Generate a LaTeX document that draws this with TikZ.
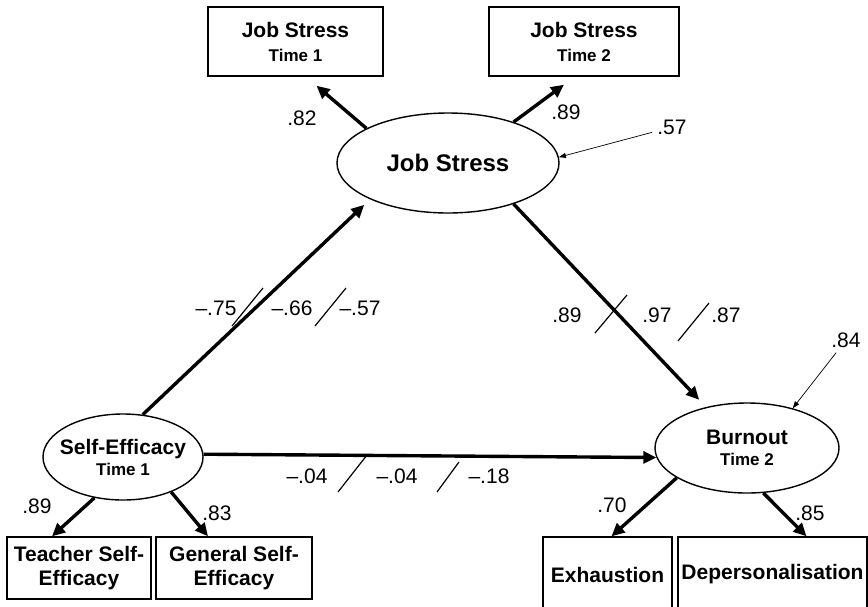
\documentclass[tikz,border=0pt]{standalone}
\usepackage{fontspec}
\setmainfont{Liberation Sans}
\usepackage{tikz}
\usetikzlibrary{arrows.meta,shapes.geometric,positioning}
\newcommand{\tline}[1]{{\fontsize{17}{20}\selectfont #1}}

\begin{document}
\begin{tikzpicture}[x=1pt, y=-1pt,
  lat/.style={ellipse, draw, line width=1.4pt, inner sep=0pt, align=center, font=\bfseries\fontsize{21}{21}\selectfont},
  obs/.style={rectangle, draw, line width=1.4pt, inner sep=0pt, align=center, font=\bfseries\fontsize{21}{24}\selectfont},
  arr/.style={-{Triangle[length=13pt,width=12pt]}, line width=3.4pt},
  err/.style={-{Triangle[length=7pt,width=5pt]}, line width=0.7pt},
  cut/.style={line width=1.2pt},
  num/.style={font=\fontsize{21}{24}\selectfont, inner sep=5pt}
]
\clip (0,0) rectangle (868,606);

\node[obs, minimum width=175pt, minimum height=69pt] (js1) at (295.5,41.5) {Job Stress\\\tline{Time 1}};
\node[obs, minimum width=190pt, minimum height=69pt] (js2) at (584,41.5) {Job Stress\\\tline{Time 2}};
\node[lat, minimum width=222pt, minimum height=100pt, font=\bfseries\fontsize{24}{26}\selectfont] (js) at (448,163) {Job Stress};
\node[lat, minimum width=160pt, minimum height=86pt, inner xsep=-14pt] (se) at (123,457) {Self-Efficacy\\\tline{Time 1}};
\node[lat, minimum width=184pt, minimum height=90pt] (bo) at (747,448) {Burnout\\\tline{Time 2}};
\node[obs, minimum width=144pt, minimum height=62pt] (tse) at (79,568) {Teacher Self-\\Efficacy};
\node[obs, minimum width=156pt, minimum height=62pt] (gse) at (234,568) {General Self-\\Efficacy};
\node[obs, minimum width=129pt, minimum height=75pt] (exh) at (607.5,574.5) {Exhaustion};
\node[obs, minimum width=189pt, minimum height=75pt] (dep) at (772.5,574.5) {Depersonalisation};

\draw[arr] (js.157) -- ([xshift=21pt,yshift=-9pt]js1.south);
\draw[arr] (js.32) -- ([xshift=-20pt,yshift=-8pt]js2.south);
\draw[arr, shorten >=8pt] (se.65) -- (js.205);
\draw[arr, shorten >=10pt] (js.-32) -- (bo.135);
\draw[arr] (se.2) -- (bo.186);
\draw[arr] (se.235) -- ([xshift=-27pt]tse.north);
\draw[arr] (se.-36) -- ([xshift=-26pt]gse.north);
\draw[arr] (bo.203) -- ([xshift=4pt]exh.north);
\draw[arr] (bo.-70) -- ([xshift=34pt]dep.north);

\node[num] (r1) at (672,127) {.57};
\node[num] (r2) at (846,340) {.84};
\draw[err] (r1) -- (js.3);
\draw[err] (r2) -- (bo.41);

\node[num] (w1) at (302,118) {.82};
\node[num] (w2) at (566,112) {.89};
\node[num] (p1) at (216,308) {--.75};
\node[num] (p2) at (292,308) {--.66};
\node[num] (p3) at (360,308) {--.57};
\node[num] (q1) at (567,315) {.89};
\node[num] (q2) at (657,315) {.97};
\node[num] (q3) at (726,315) {.87};
\node[num] (h1) at (307,476) {--.04};
\node[num] (h2) at (397,476) {--.04};
\node[num] (h3) at (489,476) {--.18};
\node[num] (f1) at (37,506) {.89};
\node[num] (f2) at (217,513) {.83};
\node[num] (f3) at (612,505) {.70};
\node[num] (f4) at (810,513) {.85};

\draw[cut] (232,326) -- (263,288);
\draw[cut] (315,326) -- (346,288);
\draw[cut] (595,333) -- (627,295);
\draw[cut] (678,341) -- (709,303);
\draw[cut] (338,492) -- (367,455);
\draw[cut] (437,492) -- (459,462);
\end{tikzpicture}
\end{document}
